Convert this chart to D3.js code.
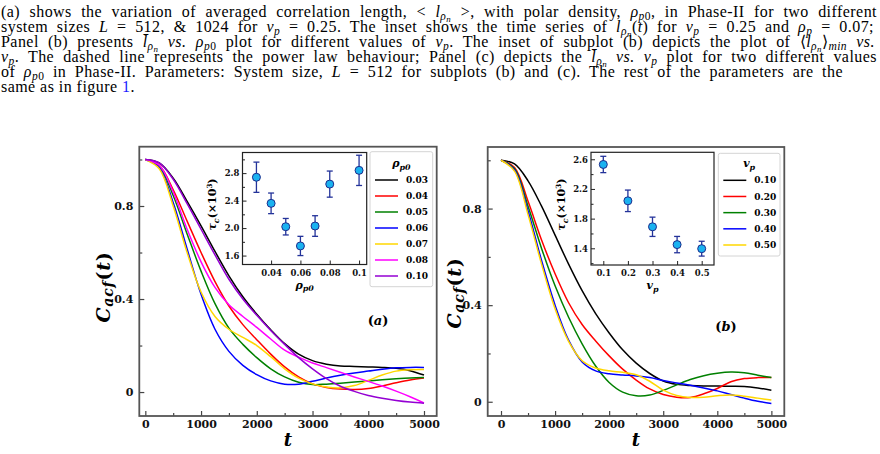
<!DOCTYPE html>
<html>
<head>
<meta charset="utf-8">
<script src="https://cdn.jsdelivr.net/npm/d3@7"></script>
<style>
  body { margin: 0; background: #fff; }
  svg { display: block; }
</style>
</head>
<body>
<svg id="fig" width="880" height="454"></svg>
<script>
// ---- data ----
const T = [0, 250, 500, 750, 1000, 1250, 1500, 1750, 2000, 2250, 2500, 2750, 3000, 3250, 3500, 3750, 4000, 4250, 4500, 4750, 5000];

// panel (a): C_acf(t) for different rho_p0
const rhoLabels = ['0.03', '0.04', '0.05', '0.06', '0.07', '0.08', '0.10'];
const acfRho003 = [1.0, 0.985, 0.92, 0.82, 0.715, 0.605, 0.5, 0.41, 0.335, 0.268, 0.208, 0.163, 0.135, 0.12, 0.112, 0.11, 0.108, 0.106, 0.102, 0.092, 0.073];
const acfRho004 = [1.0, 0.975, 0.87, 0.735, 0.6, 0.475, 0.37, 0.29, 0.225, 0.163, 0.108, 0.065, 0.035, 0.02, 0.013, 0.011, 0.015, 0.026, 0.04, 0.052, 0.06];
const acfRho005 = [1.0, 0.97, 0.845, 0.68, 0.52, 0.38, 0.275, 0.205, 0.148, 0.1, 0.065, 0.042, 0.032, 0.034, 0.038, 0.043, 0.048, 0.053, 0.057, 0.06, 0.063];
const acfRho006 = [1.0, 0.965, 0.815, 0.615, 0.42, 0.27, 0.175, 0.115, 0.075, 0.048, 0.034, 0.034, 0.046, 0.06, 0.072, 0.082, 0.09, 0.098, 0.104, 0.106, 0.106];
const acfRho007 = [1.0, 0.96, 0.8, 0.6, 0.43, 0.325, 0.27, 0.235, 0.2, 0.152, 0.1, 0.06, 0.035, 0.022, 0.018, 0.028, 0.05, 0.073, 0.09, 0.096, 0.097];
const acfRho008 = [1.0, 0.975, 0.86, 0.7, 0.56, 0.45, 0.375, 0.325, 0.278, 0.228, 0.18, 0.15, 0.125, 0.105, 0.085, 0.065, 0.046, 0.026, 0.004, -0.02, -0.047];
const acfRho010 = [1.0, 0.985, 0.915, 0.81, 0.7, 0.59, 0.485, 0.4, 0.33, 0.265, 0.205, 0.148, 0.1, 0.058, 0.025, 0.003, -0.015, -0.027, -0.036, -0.043, -0.048];

// inset (a): tau_c vs rho_p0
const insetRho = [0.03, 0.04, 0.05, 0.06, 0.07, 0.08, 0.10];
const tauRho = [2.74, 2.36, 2.02, 1.74, 2.03, 2.64, 2.84];
const tauRhoErr = [0.22, 0.15, 0.12, 0.14, 0.15, 0.19, 0.22];

// panel (b): C_acf(t) for different v_p
const vpLabels = ['0.10', '0.20', '0.30', '0.40', '0.50'];
const acfVp010 = [1.0, 0.985, 0.915, 0.81, 0.69, 0.57, 0.46, 0.365, 0.285, 0.215, 0.16, 0.117, 0.086, 0.072, 0.067, 0.065, 0.065, 0.064, 0.063, 0.057, 0.048];
const acfVp020 = [1.0, 0.97, 0.83, 0.67, 0.53, 0.41, 0.32, 0.252, 0.19, 0.135, 0.09, 0.053, 0.03, 0.019, 0.018, 0.033, 0.055, 0.083, 0.096, 0.1, 0.1];
const acfVp030 = [1.0, 0.965, 0.81, 0.635, 0.48, 0.35, 0.24, 0.148, 0.08, 0.04, 0.025, 0.028, 0.047, 0.07, 0.092, 0.108, 0.118, 0.123, 0.12, 0.11, 0.1];
const acfVp040 = [1.0, 0.96, 0.79, 0.585, 0.4, 0.255, 0.165, 0.128, 0.116, 0.111, 0.107, 0.1, 0.088, 0.078, 0.068, 0.057, 0.045, 0.03, 0.015, 0.002, -0.007];
const acfVp050 = [1.0, 0.955, 0.775, 0.57, 0.385, 0.25, 0.17, 0.14, 0.128, 0.122, 0.112, 0.085, 0.048, 0.026, 0.018, 0.019, 0.025, 0.028, 0.023, 0.015, 0.007];

// inset (b): tau_c vs v_p
const insetVp = [0.1, 0.2, 0.3, 0.4, 0.5];
const tauVp = [2.53, 2.04, 1.69, 1.45, 1.395];
const tauVpErr = [0.11, 0.145, 0.13, 0.11, 0.1];

// ticks
const tMajor = [0, 1000, 2000, 3000, 4000, 5000];
const tMinor = [500, 1500, 2500, 3500, 4500];
const cMajor = [0, 0.4, 0.8];
const cMinor = [0.2, 0.6, 1.0];
const insetRhoTicks = [0.04, 0.06, 0.08, 0.1];
const insetTauTicksA = [1.6, 2.0, 2.4, 2.8];
const insetTauMinorA = [1.8, 2.2, 2.6, 3.0];
const insetVpTicks = [0.1, 0.2, 0.3, 0.4, 0.5];
const insetTauTicksB = [1.4, 1.8, 2.2, 2.6];
const insetTauMinorB = [1.2, 1.6, 2.0, 2.4];

// ---- style ----
const colorsA = ['#000000', '#ff0000', '#008000', '#0000ff', '#ffd700', '#ff00ff', '#9400d3'];
const colorsB = ['#000000', '#ff0000', '#008000', '#0000ff', '#ffd700'];
const SERIF = "'DejaVu Serif', serif";
const CAP = "'Liberation Serif', 'Times New Roman', serif";

const svg = d3.select('#fig');

// rich text with sub/superscripts: segs = [[str, code]], code = level + style
// level: 0 base, 1 sub, 2 subsub, u sup ; style: r roman, i italic, b roman blue
function rich(parent, x, y, segs, o) {
  const fs = o.size;
  const t = parent.append('text').attr('x', x).attr('y', y)
    .style('font-family', o.family).style('font-size', fs + 'px')
    .style('font-weight', o.weight || 'normal')
    .attr('fill', '#000');
  if (o.anchor) t.attr('text-anchor', o.anchor);
  if (o.spacing) t.style('letter-spacing', o.spacing + 'px');
  if (o.rotate) t.attr('transform', `rotate(-90,${x},${y})`);
  const off = { '0': 0, '1': o.subOff || 0.26, '2': o.sub2Off || 0.42, 'u': -0.4 };
  const scl = { '0': 1, '1': o.subScale || 0.72, '2': 0.56, 'u': 0.65 };
  let cur = 0;
  segs.forEach(([s, code]) => {
    const lv = code[0], st = code[1];
    const target = off[lv] * fs;
    t.append('tspan').attr('dy', target - cur)
      .style('font-size', (scl[lv] * fs) + 'px')
      .style('font-style', st === 'i' ? 'italic' : 'normal')
      .attr('fill', st === 'b' ? '#1a1aff' : '#000')
      .text(s);
    cur = target;
  });
  return t;
}

// ---- caption ----
const cap = svg.append('g');
const lRho = [['l', '0i'], ['ρ', '1i'], ['n', '2i']];
const lbarRho = [['l\u0304', '0i'], ['ρ', '1i'], ['n', '2i']];
const rhoP0 = [['ρ', '0i'], ['p', '1i'], ['0', '1r']];
const vP = [['v', '0i'], ['p', '1i']];
const capLines = [
  [[['(a) shows the variation of averaged correlation length, < ', '0r']], lRho, [[' >, with polar density, ', '0r']], rhoP0, [[', in Phase-II for two different', '0r']]],
  [[['system sizes ', '0r'], ['L', '0i'], [' = 512, & 1024 for ', '0r']], vP, [[' = 0.25. The inset shows the time series of ', '0r']], lRho, [['(', '0r'], ['t', '0i'], [') for ', '0r']], vP, [[' = 0.25 and ', '0r'], ['ρ', '0i'], ['p', '1i'], [' = 0.07;', '0r']]],
  [[['Panel (b) presents ', '0r']], lbarRho, [[' vs.', '0i'], [' ', '0r']], rhoP0, [[' plot for different values of ', '0r']], vP, [['. The inset of subplot (b) depicts the plot of ⟨', '0r']], lRho, [['⟩', '0r'], ['min', '1i'], [' vs.', '0i']]],
  [vP, [['. The dashed line represents the power law behaviour; Panel (c) depicts the ', '0r']], lbarRho, [[' vs.', '0i'], [' ', '0r']], vP, [[' plot for two different values', '0r']]],
  [[['of ', '0r']], rhoP0, [[' in Phase-II. Parameters: System size, ', '0r'], ['L', '0i'], [' = 512 for subplots (b) and (c). The rest of the parameters are the', '0r']]],
  [[['same as in figure ', '0r'], ['1', '0b'], ['.', '0r']]]
];
const capLens = [876, 873, 874, 876, 842, null];
capLines.forEach((parts, i) => {
  const segs = parts.flat();
  const t = rich(cap, 1, 17 + i * 15, segs, { family: CAP, size: 16, subOff: 0.2, sub2Off: 0.32, spacing: 0.45 });
  if (capLens[i]) {
    const nat = t.node().getComputedTextLength();
    const gaps = segs.map(s => s[0]).join('').split(' ').length - 1;
    t.style('word-spacing', ((capLens[i] - nat) / gaps) + 'px');
  }
});

// ---- panels ----
function drawPanel(p) {
  const g = svg.append('g');
  const b = p.box;
  const x = d3.scaleLinear().domain(p.xDom).range([b.x0, b.x1]);
  const y = d3.scaleLinear().domain(p.yDom).range([b.y1, b.y0]);

  const clipId = 'clip' + p.id;
  svg.append('clipPath').attr('id', clipId).append('rect')
    .attr('x', b.x0).attr('y', b.y0).attr('width', b.x1 - b.x0).attr('height', b.y1 - b.y0);

  const line = d3.line().x((d, i) => x(T[i])).y(d => y(d)).curve(d3.curveCatmullRom.alpha(0.5));
  g.append('g').attr('clip-path', `url(#${clipId})`)
    .selectAll('path').data(p.series).enter().append('path')
    .attr('d', d => line(d))
    .attr('fill', 'none')
    .attr('stroke', (d, i) => p.colors[i])
    .attr('stroke-width', 1.5);

  // axes
  g.append('g').attr('transform', `translate(0,${b.y1})`)
    .call(d3.axisBottom(x).tickValues(tMajor).tickSize(-5).tickPadding(4).tickFormat(d3.format('d')));
  g.append('g').attr('transform', `translate(0,${b.y1})`)
    .call(d3.axisBottom(x).tickValues(tMinor).tickSize(-3).tickFormat(''));
  g.append('g').attr('transform', `translate(${b.x0},0)`)
    .call(d3.axisLeft(y).tickValues(cMajor).tickSize(-5).tickPadding(6).tickFormat(d => d === 0 ? '0' : d3.format('.1f')(d)));
  g.append('g').attr('transform', `translate(${b.x0},0)`)
    .call(d3.axisLeft(y).tickValues(cMinor).tickSize(-3).tickFormat(''));
  g.selectAll('.domain').remove();
  g.selectAll('.tick line').attr('stroke', '#444').attr('stroke-width', 1.2);
  g.selectAll('.tick text').style('font-family', SERIF).style('font-weight', 'bold').style('font-size', '11px').attr('fill', '#111');

  g.append('rect').attr('x', b.x0).attr('y', b.y0).attr('width', b.x1 - b.x0).attr('height', b.y1 - b.y0)
    .attr('fill', 'none').attr('stroke', '#555').attr('stroke-width', 1.8);

  // labels
  rich(g, (b.x0 + b.x1) / 2, 446, [['t', '0i']], { family: SERIF, size: 18, weight: 'bold', anchor: 'middle' });
  rich(g, p.ylabX, p.ylabY, [['C', '0i'], ['acf', '1i'], ['(', '0r'], ['t', '0i'], [')', '0r']],
    { family: SERIF, size: 19, weight: 'bold', anchor: 'middle', rotate: true, subOff: 0.18, subScale: 0.74, spacing: 0.8 });
  rich(g, p.tagX, p.tagY, [['(', '0r'], [p.tag, '0i'], [')', '0r']], { family: SERIF, size: 13, weight: 'bold', anchor: 'middle' });

  // legend
  const L = p.legend;
  g.append('rect').attr('x', L.x0).attr('y', L.y0).attr('width', L.x1 - L.x0).attr('height', L.y1 - L.y0)
    .attr('rx', 2).attr('fill', '#fff').attr('fill-opacity', 0.85).attr('stroke', '#d4d4d4').attr('stroke-width', 1);
  rich(g, (L.x0 + L.x1) / 2, L.titleY, p.legendTitle, { family: SERIF, size: 11, weight: 'bold', anchor: 'middle' });
  const ly = d3.scalePoint().domain(p.labels).range([L.firstY, L.lastY]);
  const lg = g.append('g').selectAll('g').data(p.labels).enter().append('g')
    .attr('transform', d => `translate(0,${ly(d)})`);
  lg.append('line').attr('x1', L.x0 + 5).attr('x2', L.x0 + 28).attr('stroke', (d, i) => p.colors[i]).attr('stroke-width', 1.5);
  lg.append('text').attr('x', L.x0 + 36).attr('dy', '0.35em').text(d => d)
    .style('font-family', SERIF).style('font-weight', 'bold').style('font-size', '9px');

  // inset
  const I = p.inset;
  const ix = d3.scaleLinear().domain(I.xDom).range([I.x0, I.x1]);
  const iy = d3.scaleLinear().domain(I.yDom).range([I.y1, I.y0]);
  const ig = g.append('g');
  ig.append('rect').attr('x', I.x0).attr('y', I.y0).attr('width', I.x1 - I.x0).attr('height', I.y1 - I.y0)
    .attr('fill', '#fff');
  ig.append('g').attr('transform', `translate(0,${I.y1})`)
    .call(d3.axisBottom(ix).tickValues(I.xTicks).tickSize(-4).tickPadding(5).tickFormat(d => String(d)));
  ig.append('g').attr('transform', `translate(${I.x0},0)`)
    .call(d3.axisLeft(iy).tickValues(I.yTicks).tickSize(-4).tickPadding(3).tickFormat(d3.format('.1f')));
  ig.append('g').attr('transform', `translate(${I.x0},0)`)
    .call(d3.axisLeft(iy).tickValues(I.yMinor).tickSize(-2.5).tickFormat(''));
  ig.selectAll('.domain').remove();
  ig.selectAll('.tick line').attr('stroke', '#222');
  ig.selectAll('.tick text').style('font-family', SERIF).style('font-weight', 'bold').style('font-size', '8.5px').attr('fill', '#111');
  ig.append('rect').attr('x', I.x0).attr('y', I.y0).attr('width', I.x1 - I.x0).attr('height', I.y1 - I.y0)
    .attr('fill', 'none').attr('stroke', '#222').attr('stroke-width', 1.2);

  const pts = I.xs.map((v, i) => ({ x: v, y: I.ys[i], e: I.err[i] }));
  const eb = ig.append('g').selectAll('g').data(pts).enter().append('g').attr('stroke', '#24339a').attr('stroke-width', 1.3);
  eb.append('line').attr('x1', d => ix(d.x)).attr('x2', d => ix(d.x)).attr('y1', d => iy(d.y - d.e)).attr('y2', d => iy(d.y + d.e));
  eb.append('line').attr('x1', d => ix(d.x) - 3).attr('x2', d => ix(d.x) + 3).attr('y1', d => iy(d.y - d.e)).attr('y2', d => iy(d.y - d.e));
  eb.append('line').attr('x1', d => ix(d.x) - 3).attr('x2', d => ix(d.x) + 3).attr('y1', d => iy(d.y + d.e)).attr('y2', d => iy(d.y + d.e));
  ig.append('g').selectAll('circle').data(pts).enter().append('circle')
    .attr('cx', d => ix(d.x)).attr('cy', d => iy(d.y)).attr('r', 4)
    .attr('fill', '#1ab2f0').attr('stroke', '#1d2c8c').attr('stroke-width', 1);

  rich(ig, (I.x0 + I.x1) / 2, I.y1 + 24, I.xlab, { family: SERIF, size: 11, weight: 'bold', anchor: 'middle' });
  rich(ig, I.ylabX, (I.y0 + I.y1) / 2 - 4, [['τ', '0i'], ['c', '1i'], ['(×10', '0r'], ['3', 'ur'], [')', '0r']],
    { family: SERIF, size: 11, weight: 'bold', anchor: 'middle', rotate: true });
}

drawPanel({
  id: 'a', tag: 'a',
  box: { x0: 139.3, x1: 436.7, y0: 146.7, y1: 416 },
  xDom: [-108, 5228], yDom: [-0.103, 1.055],
  series: [acfRho003, acfRho004, acfRho005, acfRho006, acfRho007, acfRho008, acfRho010],
  colors: colorsA, labels: rhoLabels,
  ylabX: 110, ylabY: 287, tagX: 378, tagY: 325,
  legendTitle: [['ρ', '0i'], ['p0', '1i']],
  legend: { x0: 370, x1: 432.7, y0: 151.7, y1: 286.7, titleY: 167, firstY: 180, lastY: 276 },
  inset: {
    x0: 242.5, x1: 366.7, y0: 152.5, y1: 264.5, xDom: [0.0205, 0.1052], yDom: [1.47, 3.10],
    xTicks: insetRhoTicks, yTicks: insetTauTicksA, yMinor: insetTauMinorA,
    xs: insetRho, ys: tauRho, err: tauRhoErr, ylabX: 216,
    xlab: [['ρ', '0i'], ['p0', '1i']]
  }
});

drawPanel({
  id: 'b', tag: 'b',
  box: { x0: 487.7, x1: 784.3, y0: 147, y1: 416 },
  xDom: [-246, 5239], yDom: [-0.059, 1.055],
  series: [acfVp010, acfVp020, acfVp030, acfVp040, acfVp050],
  colors: colorsB, labels: vpLabels,
  ylabX: 461, ylabY: 293, tagX: 726, tagY: 331,
  legendTitle: [['v', '0i'], ['p', '1i']],
  legend: { x0: 718.3, x1: 780, y0: 153.3, y1: 256, titleY: 167, firstY: 180.3, lastY: 245 },
  inset: {
    x0: 591, x1: 714, y0: 152.3, y1: 265, xDom: [0.05, 0.55], yDom: [1.175, 2.694],
    xTicks: insetVpTicks, yTicks: insetTauTicksB, yMinor: insetTauMinorB,
    xs: insetVp, ys: tauVp, err: tauVpErr, ylabX: 565,
    xlab: [['v', '0i'], ['p', '1i']]
  }
});
</script>
</body>
</html>
